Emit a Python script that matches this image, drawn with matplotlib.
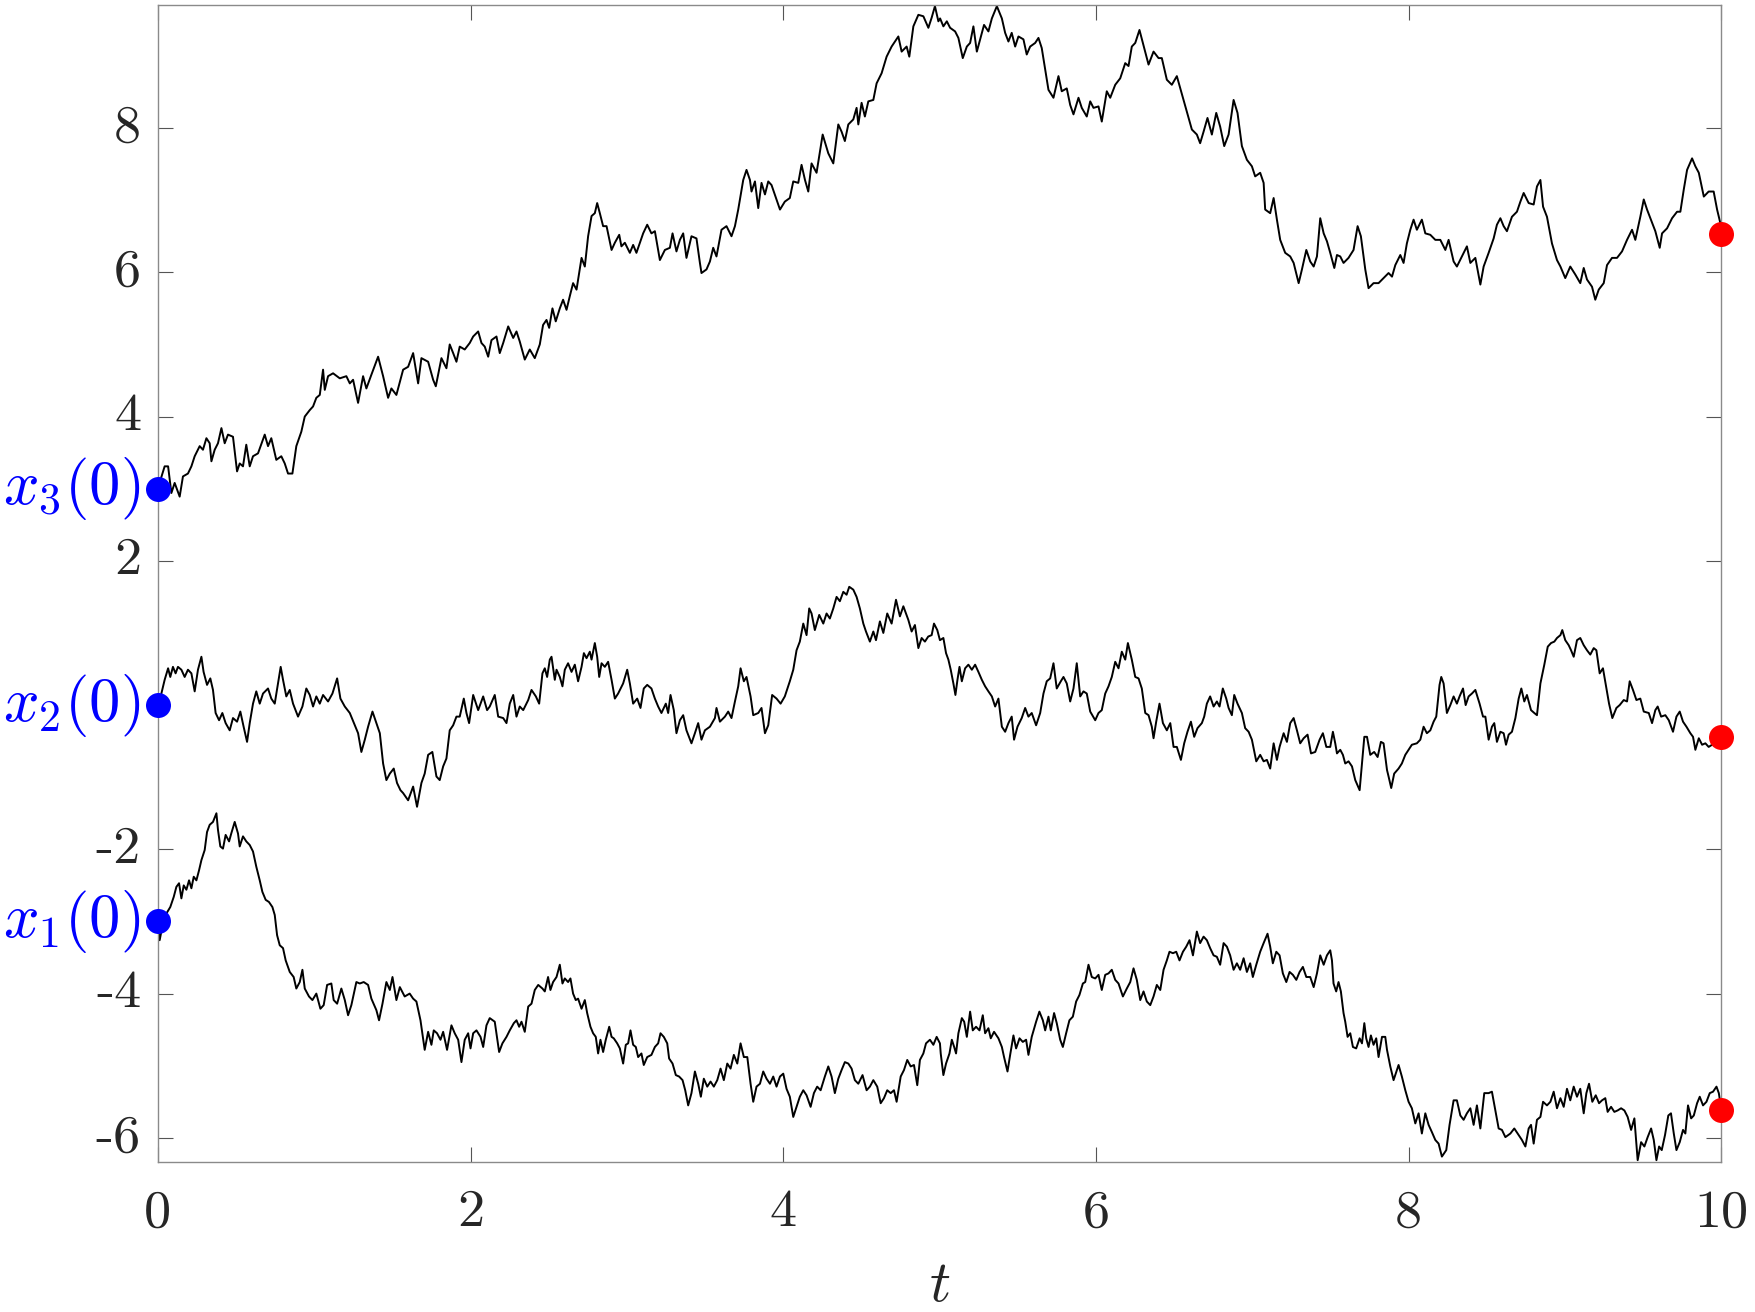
import numpy as np
import matplotlib
matplotlib.use('Agg')
import matplotlib.pyplot as plt

plt.rcParams['mathtext.fontset'] = 'cm'
plt.rcParams['axes.unicode_minus'] = False

# ---------------- data ----------------
# path 3 (starts at x3(0) = 3)
t3 = [0.0, 0.044, 0.066, 0.087, 0.108, 0.140, 0.161, 0.193, 0.215, 0.236, 0.268, 0.289, 0.311, 0.332, 0.343, 0.364, 0.385, 0.407, 0.428, 0.449,
      0.481, 0.507, 0.524, 0.545, 0.566, 0.588, 0.609, 0.641, 0.684, 0.705, 0.726, 0.758, 0.790, 0.812, 0.833, 0.861, 0.886, 0.918, 0.940, 0.972,
      0.993, 1.014, 1.036, 1.057, 1.068, 1.089, 1.121, 1.164, 1.206, 1.228, 1.249, 1.281, 1.313, 1.334, 1.366, 1.409, 1.441, 1.473, 1.494, 1.526,
      1.569, 1.601, 1.633, 1.665, 1.686, 1.729, 1.761, 1.778, 1.814, 1.846, 1.867, 1.889, 1.910, 1.931, 1.963, 1.995, 2.017, 2.049, 2.070, 2.091,
      2.113, 2.134, 2.166, 2.187, 2.209, 2.241, 2.273, 2.294, 2.315, 2.347, 2.379, 2.411,
      2.443, 2.464, 2.486, 2.503, 2.524, 2.545, 2.571, 2.592, 2.614, 2.635, 2.656, 2.678, 2.695, 2.710, 2.731, 2.752, 2.774, 2.795, 2.810, 2.827,
      2.848, 2.870, 2.902, 2.923, 2.951, 2.965, 2.987, 3.019, 3.040, 3.061, 3.083, 3.104, 3.130, 3.157, 3.179, 3.211, 3.243, 3.275, 3.292, 3.317,
      3.339, 3.360, 3.381, 3.413, 3.445, 3.467, 3.477, 3.509, 3.531, 3.552, 3.573, 3.605, 3.637, 3.669, 3.691, 3.712, 3.744, 3.765, 3.787, 3.797,
      3.819, 3.840, 3.861, 3.883, 3.904, 3.925, 3.957, 3.979, 4.010, 4.042, 4.064, 4.096, 4.117, 4.139, 4.160, 4.181, 4.213, 4.252, 4.288, 4.320,
      4.352, 4.373, 4.394, 4.416, 4.448, 4.469, 4.480, 4.501, 4.522, 4.544, 4.576, 4.597, 4.629, 4.661, 4.693, 4.736, 4.757, 4.789, 4.806, 4.832,
      4.864, 4.896, 4.928, 4.949, 4.970, 4.992,
      5.003, 5.024, 5.046, 5.067, 5.099, 5.120, 5.148, 5.174, 5.195, 5.216, 5.238, 5.259, 5.284, 5.312, 5.334, 5.366, 5.398, 5.419, 5.440, 5.461,
      5.483, 5.504, 5.536, 5.557, 5.579, 5.611, 5.632, 5.653, 5.675, 5.696, 5.728, 5.760, 5.781, 5.813, 5.835, 5.856, 5.888, 5.909, 5.941, 5.963,
      5.984, 6.016, 6.037, 6.069, 6.091, 6.123, 6.155, 6.187, 6.208, 6.229, 6.251, 6.278, 6.300, 6.336, 6.368, 6.400, 6.421, 6.453, 6.485, 6.517,
      6.560, 6.581, 6.613, 6.645, 6.666, 6.688, 6.713, 6.741, 6.769, 6.794, 6.820, 6.848, 6.880, 6.905, 6.933, 6.965, 6.997, 7.018, 7.050, 7.072,
      7.082, 7.114, 7.136, 7.157, 7.178, 7.210, 7.242, 7.264, 7.296, 7.317, 7.345, 7.370, 7.392, 7.413, 7.434, 7.456, 7.477,
      7.498, 7.524, 7.541, 7.562, 7.583, 7.615, 7.647, 7.673, 7.694, 7.722, 7.743, 7.775, 7.807, 7.839, 7.871, 7.893, 7.914, 7.946, 7.967, 7.988,
      8.010, 8.031, 8.052, 8.084, 8.106, 8.138, 8.170, 8.202, 8.234, 8.255, 8.287, 8.308, 8.340, 8.372, 8.394, 8.426, 8.458, 8.479, 8.511, 8.543,
      8.564, 8.586, 8.607, 8.628, 8.660, 8.692, 8.714, 8.735, 8.767, 8.799, 8.820, 8.842, 8.859, 8.884, 8.916, 8.948, 8.970, 9.001, 9.033, 9.065,
      9.097, 9.119, 9.140, 9.172, 9.193, 9.215, 9.247, 9.268, 9.300, 9.332, 9.364, 9.396, 9.428, 9.449, 9.481, 9.503, 9.524, 9.545, 9.577, 9.605,
      9.620, 9.652, 9.684, 9.716, 9.737, 9.759, 9.780, 9.812, 9.833, 9.855, 9.887, 9.918, 9.950, 9.972, 9.993, 10.0]
x3 = [3.00, 3.31, 3.31, 2.94, 3.08, 2.89, 3.17, 3.21, 3.31, 3.45, 3.59, 3.54, 3.70, 3.63, 3.38, 3.54, 3.63, 3.84, 3.63, 3.75,
      3.72, 3.24, 3.35, 3.31, 3.61, 3.31, 3.45, 3.49, 3.75, 3.59, 3.70, 3.40, 3.45, 3.35, 3.21, 3.21, 3.59, 3.79, 4.00, 4.09,
      4.14, 4.26, 4.30, 4.65, 4.37, 4.56, 4.60, 4.53, 4.56, 4.46, 4.51, 4.19, 4.56, 4.39, 4.58, 4.83, 4.56, 4.26, 4.39, 4.30,
      4.65, 4.69, 4.88, 4.46, 4.81, 4.76, 4.51, 4.42, 4.81, 4.67, 5.00, 4.88, 4.76, 4.97, 4.93, 5.02, 5.11, 5.18, 5.02, 4.97,
      4.83, 5.06, 5.11, 4.88, 5.02, 5.25, 5.09, 5.18, 5.04, 4.79, 4.93, 4.81,
      5.00, 5.27, 5.34, 5.23, 5.50, 5.32, 5.50, 5.62, 5.48, 5.67, 5.85, 5.76, 5.99, 6.20, 6.08, 6.50, 6.78, 6.82, 6.96, 6.82,
      6.64, 6.64, 6.31, 6.41, 6.52, 6.36, 6.41, 6.27, 6.38, 6.27, 6.41, 6.54, 6.66, 6.54, 6.57, 6.17, 6.31, 6.34, 6.54, 6.29,
      6.45, 6.54, 6.20, 6.50, 6.47, 6.13, 5.99, 6.04, 6.15, 6.34, 6.22, 6.59, 6.64, 6.50, 6.64, 6.87, 7.28, 7.42, 7.28, 7.12,
      7.26, 6.89, 7.24, 7.08, 7.26, 7.21, 7.01, 6.87, 6.98, 7.03, 7.26, 7.24, 7.49, 7.28, 7.12, 7.51, 7.38, 7.91, 7.65, 7.51,
      8.05, 7.95, 7.82, 8.05, 8.12, 8.28, 8.05, 8.35, 8.16, 8.37, 8.39, 8.62, 8.76, 8.99, 9.13, 9.27, 9.06, 9.13, 8.99, 9.41,
      9.57, 9.55, 9.39, 9.53, 9.69, 9.48,
      9.52, 9.41, 9.48, 9.39, 9.34, 9.25, 8.97, 9.13, 9.18, 9.41, 9.06, 9.23, 9.43, 9.34, 9.52, 9.69, 9.52, 9.32, 9.20, 9.32,
      9.13, 9.27, 9.23, 9.02, 9.13, 9.18, 9.25, 9.11, 8.81, 8.53, 8.42, 8.72, 8.51, 8.55, 8.32, 8.19, 8.42, 8.28, 8.16, 8.37,
      8.28, 8.30, 8.09, 8.51, 8.42, 8.60, 8.69, 8.90, 8.86, 9.13, 9.18, 9.36, 9.18, 8.88, 9.06, 8.97, 8.97, 8.67, 8.60, 8.72,
      8.39, 8.23, 7.98, 7.91, 7.79, 7.95, 8.14, 7.91, 8.21, 8.02, 7.75, 7.91, 8.39, 8.21, 7.75, 7.56, 7.47, 7.33, 7.38, 7.24,
      6.87, 6.82, 7.03, 6.73, 6.45, 6.27, 6.22, 6.13, 5.85, 6.04, 6.31, 6.15, 6.08, 6.22, 6.75, 6.54, 6.43,
      6.27, 6.06, 6.24, 6.22, 6.13, 6.20, 6.31, 6.64, 6.50, 6.04, 5.78, 5.85, 5.85, 5.92, 5.99, 5.94, 6.10, 6.24, 6.13, 6.40,
      6.59, 6.73, 6.59, 6.73, 6.54, 6.52, 6.45, 6.45, 6.31, 6.45, 6.15, 6.08, 6.22, 6.36, 6.13, 6.20, 5.83, 6.08, 6.27, 6.47,
      6.66, 6.75, 6.64, 6.57, 6.77, 6.84, 6.98, 7.10, 6.96, 6.94, 7.19, 7.28, 6.91, 6.77, 6.40, 6.17, 6.08, 5.92, 6.08, 5.97,
      5.85, 6.06, 5.90, 5.80, 5.62, 5.76, 5.85, 6.10, 6.20, 6.20, 6.29, 6.45, 6.59, 6.45, 6.77, 7.01, 6.87, 6.75, 6.57, 6.34,
      6.54, 6.61, 6.75, 6.84, 6.84, 7.15, 7.42, 7.58, 7.47, 7.38, 7.05, 7.12, 7.12, 6.87, 6.68, 6.53]

# path 2 (starts at x2(0) = 0)
t2 = [0.0, 0.023, 0.044, 0.066, 0.080, 0.097, 0.114, 0.129, 0.151, 0.172, 0.193, 0.215, 0.236, 0.257, 0.279, 0.293, 0.315, 0.336, 0.353, 0.370,
      0.392, 0.413, 0.434, 0.460, 0.481, 0.507, 0.528, 0.549, 0.571, 0.588, 0.609, 0.630, 0.652, 0.673, 0.705, 0.726, 0.748, 0.769, 0.786, 0.801,
      0.822, 0.844, 0.865, 0.897, 0.925, 0.950, 0.972, 0.993, 1.014, 1.036, 1.057, 1.089, 1.117, 1.147, 1.168, 1.196, 1.228, 1.260, 1.281, 1.302,
      1.324, 1.345, 1.373, 1.398, 1.420, 1.441, 1.462, 1.484, 1.509, 1.530, 1.552, 1.569, 1.601, 1.633, 1.658, 1.686, 1.707, 1.729, 1.756, 1.782,
      1.803, 1.825, 1.846, 1.867, 1.889, 1.910, 1.931, 1.957, 1.974, 1.991, 2.017, 2.049, 2.081, 2.106, 2.123, 2.155, 2.177, 2.209, 2.230, 2.251,
      2.273, 2.294, 2.315, 2.337, 2.369, 2.390, 2.418, 2.439,
      2.460, 2.475, 2.490, 2.507, 2.518, 2.539, 2.550, 2.571, 2.588, 2.603, 2.624, 2.646, 2.667, 2.688, 2.710, 2.725, 2.742, 2.763, 2.774,
      2.795, 2.810, 2.823, 2.838, 2.859, 2.880, 2.902, 2.923, 2.944, 2.976, 3.002, 3.019, 3.040, 3.066, 3.087, 3.108, 3.130, 3.157, 3.179, 3.200,
      3.221, 3.249, 3.264, 3.279, 3.300, 3.317, 3.339, 3.360, 3.381, 3.413, 3.435, 3.456, 3.477, 3.499, 3.531, 3.563, 3.573, 3.595, 3.627, 3.648,
      3.669, 3.691, 3.712, 3.727, 3.748, 3.765, 3.791, 3.808, 3.840, 3.861, 3.883, 3.904, 3.929, 3.957, 3.983, 4.010, 4.042, 4.064, 4.085, 4.106,
      4.128, 4.149, 4.166, 4.181, 4.202, 4.230, 4.256, 4.277, 4.298, 4.320, 4.341, 4.362, 4.384, 4.405, 4.422, 4.448, 4.469, 4.490, 4.512, 4.529,
      4.554, 4.576, 4.593, 4.618, 4.640, 4.665, 4.693, 4.721, 4.746, 4.768, 4.800, 4.821, 4.842, 4.864, 4.885, 4.906, 4.927, 4.949, 4.964, 4.985,
      5.002,
      5.024, 5.041, 5.056, 5.071, 5.088, 5.101, 5.114, 5.127, 5.142, 5.163, 5.184, 5.206, 5.227, 5.248, 5.270, 5.291, 5.312, 5.334, 5.355, 5.376,
      5.398, 5.419, 5.440, 5.461, 5.476, 5.498, 5.525, 5.547, 5.568, 5.589, 5.617, 5.643, 5.664, 5.685, 5.707, 5.728, 5.749, 5.775, 5.792, 5.813,
      5.835, 5.856, 5.877, 5.899, 5.920, 5.941, 5.963, 5.995, 6.016, 6.037, 6.059, 6.080, 6.101, 6.123, 6.144, 6.165, 6.187, 6.204, 6.229, 6.251,
      6.272, 6.293, 6.315, 6.336, 6.357, 6.368, 6.385, 6.406, 6.428, 6.453, 6.475, 6.496, 6.517, 6.543, 6.564, 6.585, 6.607, 6.628, 6.649, 6.677,
      6.692, 6.709, 6.730, 6.752, 6.773, 6.790, 6.811, 6.833, 6.848, 6.869, 6.884, 6.905, 6.933, 6.954, 6.976, 6.997, 7.025, 7.050, 7.072, 7.093,
      7.114, 7.136, 7.157, 7.174, 7.200, 7.221, 7.242, 7.264, 7.285, 7.306, 7.328, 7.353, 7.375, 7.402, 7.430, 7.451, 7.473,
      7.498, 7.515, 7.530, 7.541, 7.562, 7.579, 7.594, 7.615, 7.637, 7.658, 7.686, 7.701, 7.716, 7.733, 7.754, 7.779, 7.801, 7.822, 7.839, 7.861,
      7.871, 7.888, 7.907, 7.935, 7.956, 7.978, 7.999, 8.020, 8.052, 8.074, 8.095, 8.116, 8.138, 8.159, 8.176, 8.197, 8.208, 8.223, 8.244, 8.266,
      8.287, 8.308, 8.325, 8.347, 8.364, 8.383, 8.404, 8.426, 8.453, 8.475, 8.490, 8.511, 8.532, 8.547, 8.564, 8.586, 8.607, 8.622, 8.639, 8.660,
      8.682, 8.703, 8.720, 8.739, 8.756, 8.782, 8.803, 8.820, 8.842, 8.867, 8.889, 8.910, 8.931, 8.948, 8.970, 8.982, 9.001, 9.023, 9.038, 9.055,
      9.076, 9.097, 9.119, 9.140, 9.161, 9.183, 9.200, 9.221, 9.242, 9.264, 9.281, 9.302, 9.328, 9.349, 9.375, 9.396, 9.413, 9.434, 9.456, 9.481,
      9.503, 9.535, 9.556, 9.577, 9.592, 9.614, 9.641, 9.663, 9.690, 9.712, 9.733, 9.754, 9.776, 9.801, 9.818, 9.833, 9.855, 9.876, 9.897, 9.918,
      9.940, 10.0]
x2 = [0.00, 0.16, 0.35, 0.51, 0.39, 0.53, 0.44, 0.53, 0.49, 0.39, 0.49, 0.44, 0.19, 0.49, 0.67, 0.46, 0.28, 0.37, 0.21, -0.11,
      -0.21, -0.11, -0.25, -0.35, -0.18, -0.23, -0.09, -0.30, -0.51, -0.25, 0.02, 0.19, 0.02, 0.16, 0.23, 0.09, 0.02, 0.30, 0.53, 0.35,
      0.12, 0.21, 0.02, -0.16, -0.02, 0.23, 0.14, -0.02, 0.12, 0.02, 0.14, 0.05, 0.16, 0.37, 0.09, -0.02, -0.11, -0.28, -0.39, -0.65,
      -0.48, -0.30, -0.09, -0.25, -0.39, -0.81, -1.04, -0.95, -0.88, -1.08, -1.18, -1.22, -1.32, -1.13, -1.41, -1.08, -0.95, -0.69, -0.65, -0.99,
      -1.04, -0.85, -0.74, -0.35, -0.28, -0.16, -0.16, 0.09, -0.11, -0.25, 0.14, -0.07, 0.12, -0.07, -0.02, 0.14, -0.16, -0.18, -0.25, 0.02,
      0.14, -0.16, -0.02, -0.07, 0.07, 0.21, 0.12, 0.02,
      0.44, 0.51, 0.39, 0.63, 0.67, 0.35, 0.49, 0.39, 0.26, 0.49, 0.58, 0.46, 0.56, 0.33, 0.53, 0.72, 0.65, 0.74, 0.63,
      0.86, 0.67, 0.39, 0.58, 0.53, 0.60, 0.35, 0.09, 0.16, 0.30, 0.49, 0.30, 0.02, 0.09, -0.04, 0.23, 0.28, 0.23, 0.09, -0.02,
      -0.11, 0.02, -0.11, 0.14, -0.07, -0.39, -0.21, -0.14, -0.35, -0.53, -0.39, -0.25, -0.48, -0.35, -0.30, -0.18, -0.04, -0.23, -0.16, -0.09,
      -0.18, 0.05, 0.26, 0.51, 0.33, 0.39, 0.12, -0.14, -0.11, -0.04, -0.39, -0.28, 0.14, 0.09, 0.02, 0.12, 0.33, 0.49, 0.76, 0.88,
      1.13, 0.97, 1.34, 1.27, 1.04, 1.25, 1.13, 1.27, 1.20, 1.34, 1.50, 1.44, 1.57, 1.53, 1.64, 1.60, 1.50, 1.34, 1.13, 1.02,
      0.88, 1.02, 0.90, 1.16, 1.00, 1.27, 1.13, 1.46, 1.23, 1.37, 1.18, 1.02, 1.11, 0.79, 0.93, 0.88, 0.95, 0.97, 1.13, 1.04,
      0.90,
      0.93, 0.72, 0.63, 0.49, 0.30, 0.14, 0.35, 0.53, 0.33, 0.51, 0.56, 0.49, 0.56, 0.46, 0.35, 0.26, 0.19, 0.12, -0.02, 0.09,
      -0.30, -0.37, -0.25, -0.16, -0.48, -0.30, -0.18, -0.04, -0.16, -0.11, -0.28, -0.11, 0.16, 0.33, 0.37, 0.58, 0.23, 0.33, 0.39, 0.30,
      0.05, 0.23, 0.58, 0.12, 0.19, 0.16, -0.09, -0.21, -0.11, -0.07, 0.16, 0.26, 0.39, 0.60, 0.51, 0.74, 0.63, 0.86, 0.63, 0.39,
      0.37, 0.23, -0.11, -0.14, -0.30, -0.46, -0.23, 0.02, -0.25, -0.35, -0.25, -0.58, -0.58, -0.76, -0.53, -0.37, -0.23, -0.44, -0.32, -0.25,
      -0.16, 0.02, 0.12, -0.02, 0.05, -0.02, 0.23, 0.09, -0.04, -0.14, 0.14, 0.02, -0.11, -0.32, -0.37, -0.48, -0.78, -0.69, -0.78, -0.76,
      -0.88, -0.53, -0.76, -0.58, -0.39, -0.51, -0.25, -0.18, -0.35, -0.53, -0.46, -0.41, -0.67, -0.65, -0.48, -0.39, -0.58,
      -0.58, -0.37, -0.53, -0.67, -0.62, -0.69, -0.81, -0.78, -0.85, -1.04, -1.18, -0.81, -0.44, -0.44, -0.69, -0.65, -0.72, -0.51, -0.53, -0.90,
      -0.99, -1.15, -0.95, -0.88, -0.81, -0.69, -0.62, -0.55, -0.53, -0.48, -0.30, -0.39, -0.35, -0.23, -0.16, 0.28, 0.39, 0.30, -0.11, 0.00,
      0.12, 0.02, 0.12, 0.23, 0.00, 0.12, 0.16, 0.21, 0.02, -0.16, -0.16, -0.48, -0.30, -0.25, -0.51, -0.37, -0.39, -0.55, -0.41, -0.37,
      -0.18, 0.09, 0.23, 0.05, 0.14, -0.07, -0.11, -0.14, 0.30, 0.56, 0.81, 0.86, 0.88, 0.93, 0.97, 1.04, 0.90, 0.83, 0.76, 0.67,
      0.90, 0.93, 0.83, 0.76, 0.70, 0.79, 0.76, 0.44, 0.51, 0.23, 0.02, -0.18, -0.04, 0.00, 0.07, 0.05, 0.33, 0.21, 0.07, 0.09,
      -0.09, -0.11, -0.25, -0.07, -0.02, -0.16, -0.14, -0.21, -0.37, -0.16, -0.09, -0.23, -0.30, -0.39, -0.44, -0.62, -0.46, -0.55, -0.53, -0.58,
      -0.55, -0.44]

# path 1 (starts at x1(0) = -3)
t1 = [0.0, 0.012, 0.029, 0.055, 0.080, 0.102, 0.119, 0.136, 0.151, 0.166, 0.183, 0.200, 0.215, 0.230, 0.247, 0.264, 0.279, 0.300, 0.315, 0.332,
      0.353, 0.375, 0.385, 0.400, 0.417, 0.434, 0.456, 0.470, 0.492, 0.513, 0.524, 0.545, 0.566, 0.588, 0.609, 0.630, 0.652, 0.669, 0.690, 0.711,
      0.733, 0.748, 0.763, 0.780, 0.801, 0.818, 0.844, 0.869, 0.886, 0.908, 0.925, 0.940, 0.967, 0.989, 1.014, 1.040, 1.061, 1.083, 1.110, 1.125,
      1.147, 1.174, 1.196, 1.217, 1.238, 1.270, 1.292, 1.317, 1.345, 1.366, 1.398, 1.415, 1.437, 1.462, 1.484, 1.501, 1.526, 1.548, 1.579, 1.611,
      1.633, 1.654, 1.680, 1.707, 1.729, 1.750, 1.765, 1.786, 1.808, 1.825, 1.850, 1.878, 1.899, 1.921, 1.942, 1.963, 1.985, 2.000, 2.017, 2.038,
      2.064, 2.081, 2.102, 2.123, 2.155, 2.183, 2.204, 2.230, 2.251, 2.277, 2.294, 2.311, 2.326, 2.347, 2.369, 2.390, 2.411, 2.433,
      2.460, 2.475, 2.496, 2.511, 2.528, 2.550, 2.571, 2.588, 2.603, 2.624, 2.639, 2.656, 2.673, 2.688, 2.710, 2.731, 2.746, 2.767, 2.784, 2.801,
      2.816, 2.831, 2.848, 2.865, 2.887, 2.902, 2.916, 2.938, 2.955, 2.976, 2.993, 3.008, 3.023, 3.040, 3.057, 3.072, 3.093, 3.108, 3.130, 3.157,
      3.179, 3.200, 3.215, 3.236, 3.258, 3.270, 3.292, 3.313, 3.334, 3.356, 3.373, 3.392, 3.413, 3.435, 3.456, 3.473, 3.492, 3.514, 3.535, 3.556,
      3.578, 3.599, 3.620, 3.642, 3.663, 3.684, 3.706, 3.727, 3.748, 3.770, 3.791, 3.808, 3.829, 3.851, 3.872, 3.893, 3.915, 3.936, 3.957, 3.979,
      4.000, 4.021, 4.042, 4.064, 4.085, 4.106, 4.128, 4.149, 4.175, 4.196, 4.217, 4.239, 4.266, 4.288, 4.309, 4.330, 4.352, 4.373, 4.394, 4.416,
      4.437, 4.458, 4.480, 4.507, 4.533, 4.554, 4.576, 4.601, 4.623, 4.644, 4.665, 4.687, 4.708, 4.725, 4.751, 4.772, 4.793, 4.815, 4.836, 4.857,
      4.874, 4.896, 4.913, 4.938, 4.960, 4.981, 5.002,
      5.007, 5.024, 5.041, 5.063, 5.078, 5.093, 5.105, 5.120, 5.142, 5.157, 5.174, 5.195, 5.212, 5.233, 5.255, 5.276, 5.291, 5.312, 5.327, 5.348,
      5.376, 5.398, 5.412, 5.434, 5.451, 5.472, 5.489, 5.511, 5.532, 5.553, 5.568, 5.589, 5.617, 5.638, 5.660, 5.675, 5.696, 5.711, 5.732, 5.749,
      5.771, 5.788, 5.809, 5.830, 5.852, 5.873, 5.894, 5.916, 5.931, 5.952, 5.973, 5.995, 6.016, 6.037, 6.059, 6.080, 6.101, 6.123, 6.144, 6.172,
      6.197, 6.219, 6.240, 6.261, 6.283, 6.304, 6.325, 6.347, 6.368, 6.389, 6.411, 6.432, 6.453, 6.470, 6.492, 6.513, 6.534, 6.556, 6.577, 6.598,
      6.620, 6.645, 6.666, 6.688, 6.709, 6.730, 6.752, 6.773, 6.794, 6.816, 6.837, 6.858, 6.880, 6.901, 6.922, 6.944, 6.965, 6.986, 7.003, 7.025,
      7.050, 7.072, 7.097, 7.114, 7.131, 7.153, 7.174, 7.195, 7.217, 7.238, 7.259, 7.281, 7.302, 7.323, 7.345, 7.370, 7.392, 7.413, 7.434, 7.456,
      7.477,
      7.498, 7.509, 7.519, 7.536, 7.551, 7.566, 7.583, 7.594, 7.609, 7.626, 7.643, 7.664, 7.686, 7.701, 7.716, 7.728, 7.743, 7.758, 7.775, 7.792,
      7.807, 7.829, 7.850, 7.861, 7.882, 7.903, 7.935, 7.956, 7.978, 7.999, 8.020, 8.042, 8.063, 8.084, 8.106, 8.127, 8.148, 8.170, 8.191, 8.212,
      8.240, 8.261, 8.287, 8.308, 8.330, 8.351, 8.372, 8.394, 8.415, 8.436, 8.458, 8.483, 8.511, 8.532, 8.554, 8.575, 8.596, 8.618, 8.650, 8.675,
      8.703, 8.724, 8.746, 8.767, 8.782, 8.799, 8.820, 8.842, 8.859, 8.884, 8.906, 8.927, 8.948, 8.970, 8.991, 9.012, 9.033, 9.055, 9.076, 9.097,
      9.119, 9.136, 9.153, 9.174, 9.196, 9.217, 9.236, 9.257, 9.272, 9.294, 9.315, 9.336, 9.358, 9.379, 9.400, 9.422, 9.443, 9.464, 9.486, 9.507,
      9.528, 9.550, 9.567, 9.584, 9.601, 9.618, 9.639, 9.660, 9.677, 9.695, 9.712, 9.733, 9.754, 9.769, 9.786, 9.806, 9.823, 9.844, 9.861, 9.882,
      9.904, 9.925, 9.946, 9.968, 9.983, 10.0]
x1 = [-3.00, -3.26, -3.07, -2.89, -2.80, -2.66, -2.52, -2.47, -2.68, -2.50, -2.56, -2.43, -2.54, -2.38, -2.43, -2.29, -2.15, -2.01, -1.76, -1.66,
      -1.62, -1.50, -1.73, -1.96, -1.99, -1.80, -1.89, -1.78, -1.62, -1.78, -1.96, -1.82, -1.89, -1.94, -2.03, -2.24, -2.43, -2.59, -2.70, -2.73,
      -2.80, -2.91, -3.19, -3.33, -3.37, -3.54, -3.70, -3.77, -3.93, -3.84, -3.67, -3.93, -4.04, -4.09, -4.00, -4.21, -4.16, -3.88, -3.86, -4.09,
      -4.14, -3.93, -4.09, -4.30, -4.16, -3.84, -3.86, -3.84, -3.88, -4.07, -4.23, -4.37, -4.14, -3.84, -3.95, -3.77, -4.09, -3.91, -4.04, -4.00,
      -4.07, -4.11, -4.37, -4.78, -4.53, -4.71, -4.51, -4.55, -4.64, -4.53, -4.78, -4.44, -4.55, -4.64, -4.95, -4.64, -4.55, -4.76, -4.55, -4.51,
      -4.60, -4.74, -4.44, -4.34, -4.39, -4.81, -4.69, -4.60, -4.51, -4.41, -4.37, -4.46, -4.39, -4.53, -4.18, -4.14, -3.95, -3.88,
      -3.93, -3.97, -3.77, -3.95, -3.84, -3.77, -3.60, -3.86, -3.79, -3.84, -3.79, -4.00, -4.09, -4.07, -4.21, -4.09, -4.27, -4.46, -4.55, -4.60,
      -4.83, -4.64, -4.81, -4.64, -4.46, -4.60, -4.62, -4.69, -4.76, -4.97, -4.71, -4.69, -4.51, -4.71, -4.74, -4.88, -4.83, -4.99, -4.88, -4.85,
      -4.74, -4.69, -4.55, -4.60, -4.69, -4.90, -4.97, -5.13, -5.15, -5.20, -5.34, -5.55, -5.38, -5.08, -5.25, -5.43, -5.18, -5.29, -5.22, -5.29,
      -5.20, -5.04, -5.20, -4.97, -5.04, -4.85, -4.97, -4.69, -4.88, -4.88, -5.25, -5.50, -5.29, -5.25, -5.08, -5.18, -5.25, -5.15, -5.29, -5.15,
      -5.11, -5.32, -5.43, -5.71, -5.57, -5.43, -5.34, -5.41, -5.57, -5.38, -5.29, -5.34, -5.15, -5.01, -5.15, -5.38, -5.18, -5.06, -4.95, -4.97,
      -5.04, -5.20, -5.25, -5.13, -5.34, -5.29, -5.20, -5.29, -5.52, -5.45, -5.34, -5.38, -5.34, -5.50, -5.15, -5.06, -4.92, -5.01, -4.99, -5.27,
      -4.92, -4.83, -4.69, -4.64, -4.71, -4.60, -4.69,
      -4.83, -5.13, -4.97, -4.83, -4.64, -4.74, -4.83, -4.55, -4.34, -4.39, -4.60, -4.25, -4.51, -4.46, -4.51, -4.30, -4.55, -4.48, -4.62, -4.53,
      -4.62, -4.74, -4.88, -5.08, -4.85, -4.58, -4.76, -4.62, -4.67, -4.64, -4.85, -4.60, -4.39, -4.25, -4.37, -4.51, -4.32, -4.51, -4.27, -4.41,
      -4.64, -4.74, -4.55, -4.37, -4.32, -4.11, -4.02, -3.86, -3.84, -3.60, -3.77, -3.79, -3.74, -3.95, -3.74, -3.72, -3.67, -3.81, -3.86, -4.04,
      -3.93, -3.84, -3.65, -3.81, -4.09, -3.97, -4.11, -4.16, -4.04, -3.88, -3.95, -3.67, -3.54, -3.42, -3.44, -3.42, -3.54, -3.42, -3.35, -3.26,
      -3.47, -3.14, -3.30, -3.21, -3.26, -3.37, -3.47, -3.49, -3.60, -3.30, -3.35, -3.47, -3.67, -3.58, -3.67, -3.51, -3.70, -3.58, -3.77, -3.60,
      -3.42, -3.30, -3.17, -3.35, -3.58, -3.42, -3.47, -3.72, -3.84, -3.70, -3.74, -3.81, -3.70, -3.63, -3.77, -3.77, -3.91, -3.72, -3.47, -3.60,
      -3.47,
      -3.40, -3.54, -3.86, -3.97, -3.84, -3.97, -4.27, -4.39, -4.60, -4.55, -4.74, -4.76, -4.62, -4.69, -4.41, -4.62, -4.74, -4.58, -4.71, -4.62,
      -4.88, -4.60, -4.60, -4.78, -5.01, -5.20, -4.99, -5.15, -5.34, -5.50, -5.59, -5.80, -5.66, -5.94, -5.66, -5.82, -5.92, -6.03, -6.08, -6.26,
      -6.17, -5.82, -5.48, -5.48, -5.69, -5.75, -5.66, -5.59, -5.82, -5.55, -5.87, -5.38, -5.38, -5.36, -5.62, -5.87, -5.89, -5.99, -5.94, -5.87,
      -5.96, -6.03, -6.12, -5.87, -5.82, -6.08, -5.75, -5.71, -5.50, -5.55, -5.50, -5.36, -5.59, -5.45, -5.57, -5.32, -5.48, -5.29, -5.43, -5.32,
      -5.66, -5.38, -5.25, -5.50, -5.41, -5.52, -5.48, -5.45, -5.64, -5.57, -5.64, -5.62, -5.59, -5.62, -5.71, -5.89, -5.73, -6.31, -6.06, -6.12,
      -5.99, -5.87, -6.03, -6.31, -6.12, -6.17, -5.96, -5.69, -5.66, -5.94, -6.17, -6.06, -5.89, -5.94, -5.55, -5.73, -5.69, -5.52, -5.43, -5.55,
      -5.50, -5.38, -5.36, -5.29, -5.38, -5.61]

paths = [(t1, x1), (t2, x2), (t3, x3)]
start_labels = [r'$x_1(0)$', r'$x_2(0)$', r'$x_3(0)$']
x_ticks = [0, 2, 4, 6, 8, 10]
x_tick_labels = ['0', '2', '4', '6', '8', '10']
y_ticks = [-6, -4, -2, 2, 4, 6, 8]
y_tick_labels = ['-6', '-4', '-2', '2', '4', '6', '8']
x_limits = (0, 10)
y_limits = (-6.33, 9.71)

# ---------------- figure ----------------
fig = plt.figure(figsize=(17.55, 13.12), dpi=100)
ax = fig.add_axes([0.0899, 0.1146, 0.8910, 0.8818])

for (tt, xx), lab in zip(paths, start_labels):
    ax.plot(tt, xx, color='black', lw=1.4, zorder=2)
    ax.plot([tt[0]], [xx[0]], 'o', color='#0000ff', ms=18, mec='none', clip_on=False, zorder=5)
    ax.plot([tt[-1]], [xx[-1]], 'o', color='#ff0000', ms=18, mec='none', clip_on=False, zorder=5)
    ax.annotate(lab, xy=(tt[0], xx[0]), xytext=(-13, 0), textcoords='offset points',
                ha='right', va='center', color='#0000ff', fontsize=45, annotation_clip=False)

ax.set_xlim(*x_limits)
ax.set_ylim(*y_limits)
ax.set_xticks(x_ticks)
ax.set_xticklabels(x_tick_labels, fontfamily='cmr10', fontsize=39)
ax.set_yticks(y_ticks)
ax.set_yticklabels(y_tick_labels, fontfamily='cmr10', fontsize=39, va='center')
ax.tick_params(direction='in', length=11, width=0.8, color='#555555', top=True, right=True,
               labelcolor='#262626', pad=12)
ax.tick_params(axis='x', pad=20)
for s in ax.spines.values():
    s.set_color('#8a8a8a')
    s.set_linewidth(1.0)
ax.set_xlabel(r'$t$', fontsize=42, color='#262626', labelpad=14)

fig.savefig('out.png', dpi=100)
